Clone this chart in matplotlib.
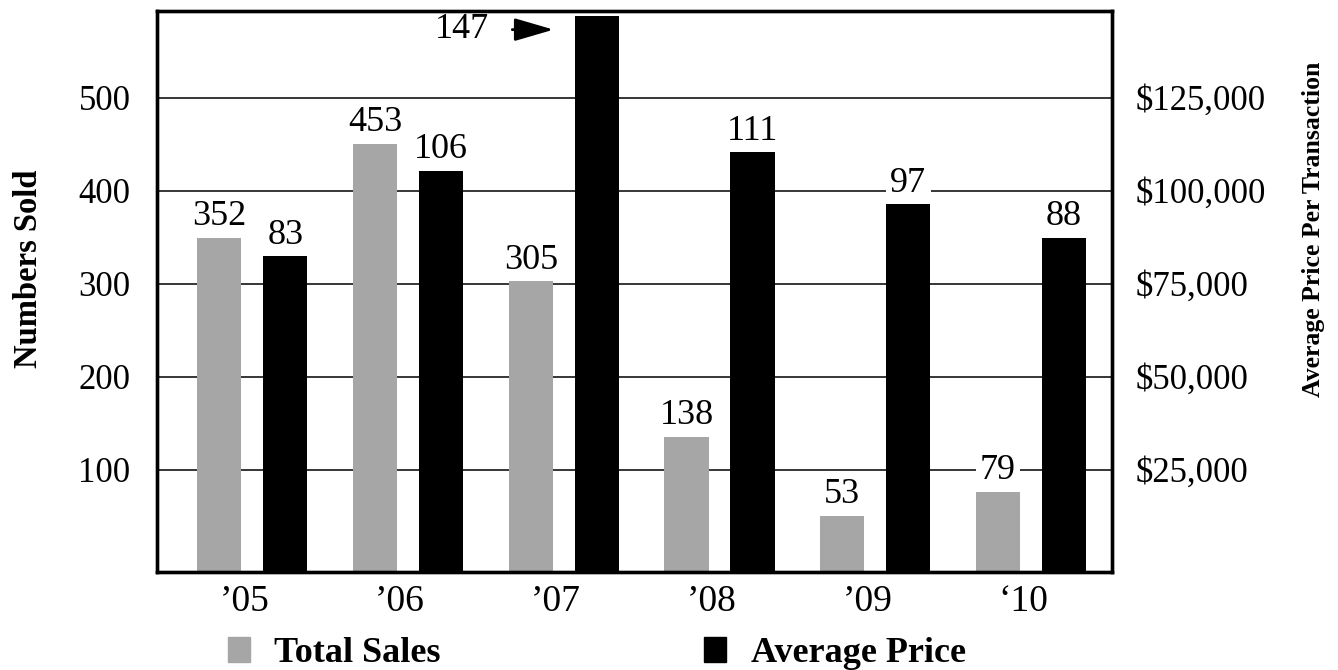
import numpy as np
import matplotlib
matplotlib.use("Agg")
import matplotlib.pyplot as plt
from matplotlib.patches import Patch
from matplotlib.ticker import FuncFormatter, FixedLocator
from matplotlib.transforms import offset_copy, ScaledTranslation

plt.rcParams['font.family'] = 'Liberation Serif'

# Yearly figures
years = ["\u201905", "\u201906", "\u201907", "\u201908", "\u201909", "\u201810"]
total_sales = [352, 453, 305, 138, 53, 79]           # units sold
avg_price_k = [83, 106, 147, 111, 97, 88]            # average price, $ thousands
left_ticks = [100, 200, 300, 400, 500]
right_ticks = [25000, 50000, 75000, 100000, 125000]

GREY = "#a6a6a6"
DOLLARS_PER_UNIT = 250          # right axis = left axis * 250
base = -10                      # baseline of the plot frame (left units)
top = 593

fig = plt.figure(figsize=(13.38, 6.70), dpi=100)
ax = fig.add_axes([0.1173, 0.1463, 0.7138, 0.8373])
ax2 = ax.twinx()

x = np.arange(len(years))
w = 0.285
off = 0.212

ax.set_xlim(-0.612, 5.52)
ax.set_ylim(base, top)
ax2.set_ylim(base * DOLLARS_PER_UNIT, top * DOLLARS_PER_UNIT)

# grid behind everything
ax.yaxis.set_major_locator(FixedLocator(left_ticks))
ax.grid(axis='y', color='black', lw=1.1, zorder=0)
ax.set_axisbelow(True)

sales = np.array(total_sales)
ax.bar(x - off, sales - base, bottom=base, width=w, color=GREY, zorder=2)

prices = np.array(avg_price_k) * 1000
pbase = base * DOLLARS_PER_UNIT
ax2.bar(x + off, prices - pbase, bottom=pbase, width=w, color='black', zorder=2)

label_kw = dict(ha='center', va='bottom', fontsize=26, textcoords='offset pixels',
                bbox=dict(boxstyle='square,pad=0.12', fc='white', ec='none'))
for xi, v in zip(x - off, total_sales):
    ax.annotate(str(v), xy=(xi, v), xytext=(0, 2), zorder=3, **label_kw)

imax = int(np.argmax(avg_price_k))
for i, (xi, v) in enumerate(zip(x + off, avg_price_k)):
    if i == imax:
        continue
    ax2.annotate(str(v), xy=(xi, v * 1000), xytext=(0, 2), zorder=3, **label_kw)

# tallest bar: label sits to its left with an arrow
tip = offset_copy(ax2.transData, fig=fig, x=-21, y=-14, units='dots')
ax2.annotate(str(avg_price_k[imax]), xy=(x[imax] + off - w / 2, avg_price_k[imax] * 1000),
             xycoords=tip, xytext=(-92, 0), textcoords='offset pixels',
             ha='center', va='center', fontsize=26,
             arrowprops=dict(arrowstyle='-|>,head_length=1.2,head_width=0.35',
                             color='black', lw=2, shrinkA=15, shrinkB=0,
                             mutation_scale=20))

# axes styling
for a in (ax, ax2):
    for s in a.spines.values():
        s.set_linewidth(2.4)
        s.set_color('black')

ax.set_xticks(x)
ax.set_xticklabels(years)
ax.tick_params(axis='x', length=0, pad=9, labelsize=27)
ax.tick_params(axis='y', length=0, pad=19, labelsize=25)
shift = ScaledTranslation(-8 / 100, 0, fig.dpi_scale_trans)
for lab in ax.get_xticklabels():
    lab.set_transform(lab.get_transform() + shift)

ax2.yaxis.set_major_locator(FixedLocator(right_ticks))
ax2.yaxis.set_major_formatter(FuncFormatter(lambda v, p: f"${v:,.0f}"))
ax2.tick_params(axis='y', length=0, pad=17, labelsize=25)

ax.set_ylabel("Numbers Sold", fontsize=23.5, fontweight='bold')
ax.yaxis.set_label_coords(-0.118, 0.54)
ax2.set_ylabel("Average Price Per Transaction", fontsize=18.5, fontweight='bold',
               rotation=90)
ax2.yaxis.set_label_coords(1.199, 0.61)

handles = [Patch(color=GREY, label="Total Sales"),
           Patch(color='black', label="Average Price")]
fig.legend(handles=handles, loc='upper left', bbox_to_anchor=(228 / 1338, 1 - 637 / 670),
           ncol=2, frameon=False, borderpad=0, borderaxespad=0,
           handlelength=0.6, handleheight=0.67, handletextpad=0.68, columnspacing=7.3,
           prop=dict(family='Liberation Serif', weight='bold', size=26))

fig.savefig("out.png", dpi=100)
